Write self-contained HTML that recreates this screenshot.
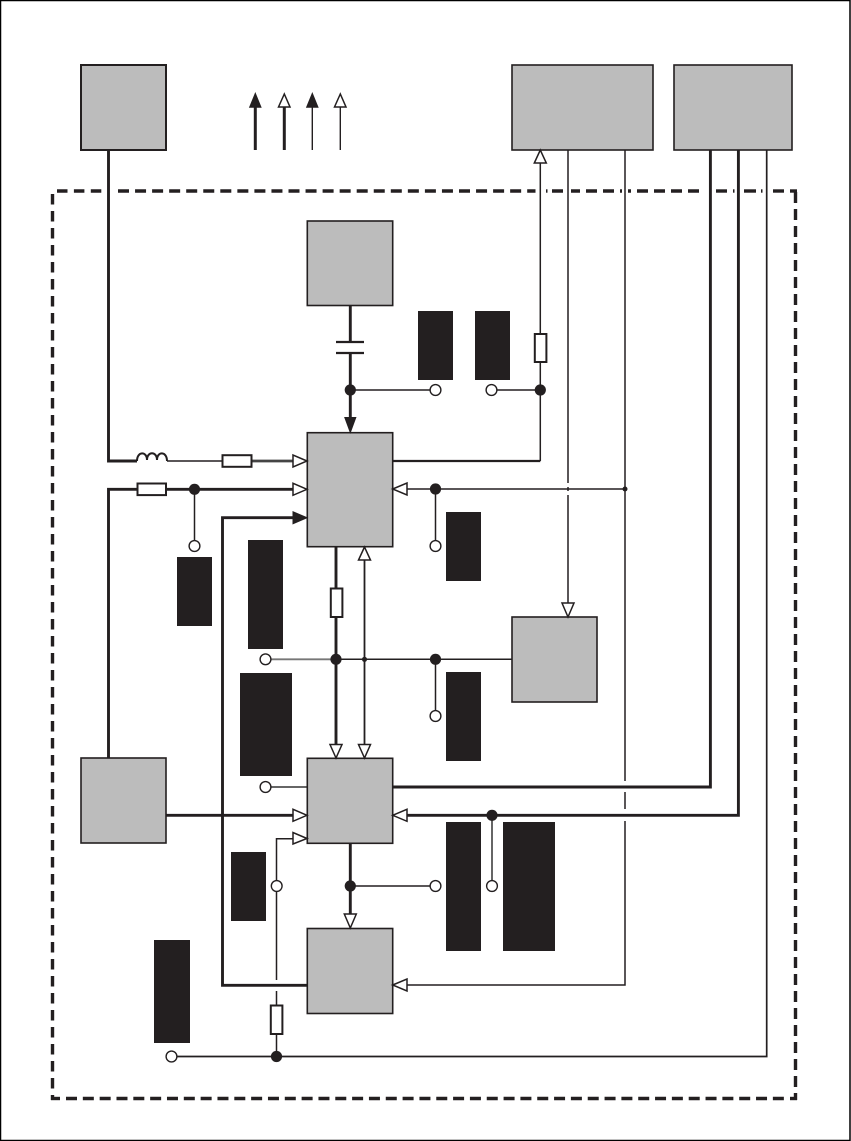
<!DOCTYPE html>
<html><head><meta charset="utf-8"><title>Diagram</title>
<style>html,body{margin:0;padding:0;background:#fff}svg{display:block}</style></head>
<body>
<svg xmlns="http://www.w3.org/2000/svg" width="851" height="1141" viewBox="0 0 851 1141">
<rect x="0.5" y="0.5" width="849.5" height="1140" fill="#fff" stroke="#000" stroke-width="1.5"/>

<!-- dashed boundary -->
<g stroke="#231f20" stroke-width="3.4" fill="none">
<line x1="57" y1="191" x2="102" y2="191" stroke-dasharray="10.5 6.4"/>
<line x1="118" y1="191" x2="535.5" y2="191" stroke-dasharray="11 6.05"/>
<line x1="546" y1="191" x2="547.5" y2="191"/>
<line x1="552" y1="191" x2="705" y2="191" stroke-dasharray="11 6"/>
<line x1="716" y1="191" x2="727" y2="191"/>
<line x1="733" y1="191" x2="734.5" y2="191"/>
<line x1="744" y1="191" x2="756" y2="191"/>
<line x1="761" y1="191" x2="762.5" y2="191"/>
<line x1="773" y1="191" x2="784" y2="191"/>
<line x1="790" y1="191" x2="797" y2="191"/>
<line x1="52.5" y1="194" x2="52.5" y2="1089" stroke-dasharray="10.5 6.5"/>
<line x1="52.5" y1="1095" x2="52.5" y2="1100"/>
<line x1="51" y1="1098.5" x2="60" y2="1098.5"/>
<line x1="66" y1="1098.5" x2="785" y2="1098.5" stroke-dasharray="11 5.83"/>
<line x1="790" y1="1098.5" x2="797" y2="1098.5"/>
<line x1="795.5" y1="1093" x2="795.5" y2="1100"/>
<line x1="795.5" y1="192" x2="795.5" y2="203"/>
<line x1="795.5" y1="209" x2="795.5" y2="1087" stroke-dasharray="11 6"/>
</g>
<g fill="#fff"><rect x="565" y="186" width="6" height="10"/><rect x="622" y="186" width="6" height="10"/></g>

<!-- thin lines -->
<g stroke="#231f20" stroke-width="1.5" fill="none">
<path d="M625 150V985H407"/>
<path d="M568 150V603"/>
<path d="M540.3 163V334M540.3 362V461"/>
<path d="M407 489H625"/>
<path d="M364.5 560V744" stroke-width="1.8"/>
<path d="M336 659.3H512"/>
<path d="M435.5 659.3V716M435.5 489V546"/>
<path d="M350.3 390H435.5M491.5 390H540.3"/>
<path d="M194.5 489.3V546"/>
<path d="M171.5 1056.5H766.7V150" stroke-width="1.7"/>
<path d="M276.5 1005V991M276.5 980V838.7H293M276.5 1034V1056.5"/>
<path d="M350.3 886H435.5"/>
<path d="M265.5 659.3H336" stroke="#777" stroke-width="1.8"/>
<path d="M265.5 787H307" stroke="#666" stroke-width="2"/>
<path d="M492 815V886" stroke="#666" stroke-width="2"/>
<path d="M167 461H222"/>
</g>
<!-- white knockouts at crossings -->
<g fill="#fff">
<rect x="621" y="781" width="8" height="11"/>
<rect x="621" y="809" width="8" height="12"/>
<rect x="564" y="483" width="8" height="4"/>
<rect x="564" y="491" width="8" height="4"/>
</g>

<!-- thick lines -->
<g stroke="#231f20" stroke-width="2.9" fill="none">
<path d="M108.5 150V461H137"/>
<path d="M108.5 758V489.3H137M166 489.3H293"/>
<path d="M252 461H293" stroke="#444" stroke-width="2.8"/>
<path d="M293 517.7H222.5V985.3H307"/>
<path d="M166 815.3H293"/>
<path d="M392.7 787H710.4V150"/>
<path d="M407 815.3H738.4V150"/>
<path d="M392.7 461H540.3" stroke-width="2.2"/>
<path d="M350.3 843V914"/>
<path d="M350.3 305V342M350.3 353V417"/>
<path d="M336 546V588M336 617V744"/>
<path d="M336 342H364M336 353H364" stroke-width="2.2"/>
</g>

<!-- inductor -->
<path d="M137 461 C137 451 147 451 147 460 C147 451 157 451 157 460 C157 451 167 451 167 461" fill="none" stroke="#231f20" stroke-width="2"/>

<!-- grey boxes -->
<g fill="#bcbcbc" stroke="#231f20" stroke-width="1.6">
<rect x="81" y="65" width="85" height="85" stroke-width="2"/>
<rect x="512" y="65" width="141" height="85"/>
<rect x="674" y="65" width="118" height="85"/>
<rect x="307.3" y="221" width="85.4" height="84.5"/>
<rect x="307.3" y="432.7" width="85.4" height="114"/>
<rect x="512" y="617" width="85" height="85"/>
<rect x="81" y="758" width="85" height="85"/>
<rect x="307.3" y="758.3" width="85.4" height="85"/>
<rect x="307.3" y="928.5" width="85.4" height="85"/>
</g>

<!-- black label blocks -->
<g fill="#231f20">
<rect x="418" y="311" width="35" height="69"/>
<rect x="475" y="311" width="35" height="69"/>
<rect x="446" y="512" width="35" height="69"/>
<rect x="248" y="540" width="35" height="109"/>
<rect x="177" y="557" width="35" height="69"/>
<rect x="240" y="673" width="52" height="103"/>
<rect x="446" y="672" width="35" height="89"/>
<rect x="446" y="822" width="35" height="129"/>
<rect x="503" y="822" width="52" height="129"/>
<rect x="231" y="852" width="35" height="69"/>
<rect x="154" y="940" width="36" height="103"/>
</g>

<!-- resistors -->
<g fill="#fff" stroke="#231f20" stroke-width="2">
<rect x="222.5" y="455.2" width="29" height="11.6"/>
<rect x="137.5" y="483.5" width="28.5" height="11.6"/>
<rect x="534.8" y="334" width="11.6" height="28"/>
<rect x="330.8" y="588.5" width="11.6" height="28.5"/>
<rect x="270.8" y="1005.5" width="11.6" height="28.5"/>
</g>

<!-- legend -->
<g stroke="#231f20">
<line x1="255.3" y1="106" x2="255.3" y2="150" stroke-width="3"/>
<line x1="284.3" y1="106" x2="284.3" y2="150" stroke-width="3"/>
<line x1="312.3" y1="106" x2="312.3" y2="150" stroke-width="1.4"/>
<line x1="340.3" y1="106" x2="340.3" y2="150" stroke-width="1.4"/>
</g>
<g stroke="#231f20" stroke-width="1.5" stroke-linejoin="miter">
<polygon points="255.3,94 250,107 260.6,107" fill="#231f20"/>
<polygon points="284.3,94 278.5,107 290,107" fill="#fff"/>
<polygon points="312.3,94 307,107 317.6,107" fill="#231f20"/>
<polygon points="340.3,94 334.5,107 346,107" fill="#fff"/>
</g>

<!-- hollow arrowheads -->
<g fill="#fff" stroke="#231f20" stroke-width="1.5">
<polygon points="307,461 293,455 293,467"/>
<polygon points="307,489.3 293,483.3 293,495.3"/>
<polygon points="307,815.3 293,809.3 293,821.3"/>
<polygon points="307,838.5 293,832.5 293,844"/>
<polygon points="392.7,489 407,483 407,495"/>
<polygon points="392.7,815.3 407,809.3 407,821.3"/>
<polygon points="392.7,985 407,979 407,991"/>
<polygon points="540.3,150 534.3,163 546.3,163"/>
<polygon points="364.5,547 358.5,560 370.5,560"/>
<polygon points="336,758 330,744.5 342,744.5"/>
<polygon points="364.5,758 358.5,744.5 370.5,744.5"/>
<polygon points="350.3,928 344.3,914 356.3,914"/>
<polygon points="568,617 562,603 574,603"/>
</g>
<!-- filled arrowheads -->
<g fill="#231f20" stroke="#231f20" stroke-width="1">
<polygon points="307,517.7 293,511.7 293,523.7"/>
<polygon points="350.3,432.5 344.8,417.5 355.8,417.5"/>
</g>

<!-- junction dots -->
<g fill="#231f20">
<circle cx="350.3" cy="390" r="5.6"/>
<circle cx="540.3" cy="390" r="5.6"/>
<circle cx="435.5" cy="489" r="5.6"/>
<circle cx="194.5" cy="489.3" r="5.6"/>
<circle cx="336" cy="659.3" r="5.6"/>
<circle cx="435.5" cy="659.3" r="5.6"/>
<circle cx="492" cy="815.3" r="5.6"/>
<circle cx="350.3" cy="886" r="5.6"/>
<circle cx="276.5" cy="1056.5" r="5.6"/>
<circle cx="625" cy="489" r="2.5"/>
<circle cx="364.5" cy="659.3" r="2.6"/>
</g>
<!-- terminals -->
<g fill="#fff" stroke="#231f20" stroke-width="1.4">
<circle cx="435.5" cy="390" r="5.4"/>
<circle cx="491.5" cy="390" r="5.4"/>
<circle cx="435.5" cy="546" r="5.4"/>
<circle cx="194.5" cy="546" r="5.4"/>
<circle cx="265.5" cy="659.3" r="5.4"/>
<circle cx="435.5" cy="716" r="5.4"/>
<circle cx="265.5" cy="787" r="5.4"/>
<circle cx="276.7" cy="886" r="5.4"/>
<circle cx="435.5" cy="886" r="5.4"/>
<circle cx="492" cy="886" r="5.4"/>
<circle cx="171.5" cy="1056.5" r="5.4"/>
</g>
</svg>
</body></html>
